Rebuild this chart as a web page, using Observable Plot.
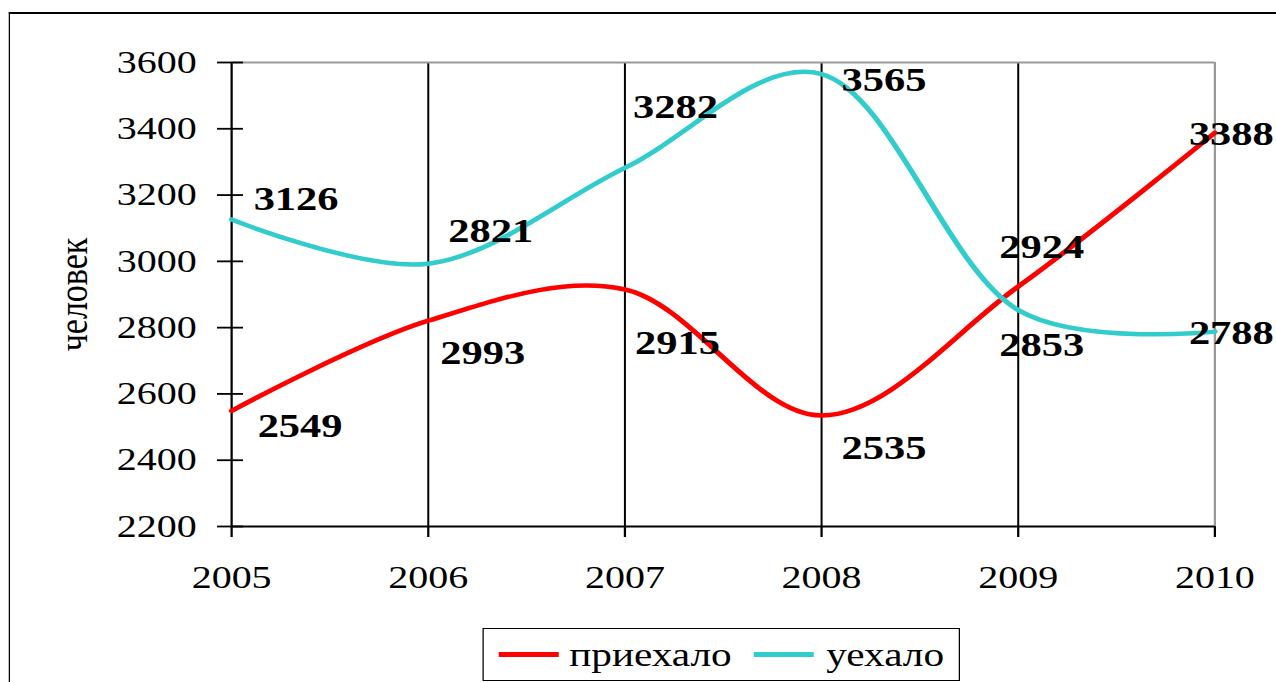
<!DOCTYPE html>
<html>
<head>
<meta charset="utf-8">
<script src="https://cdn.jsdelivr.net/npm/d3@7"></script>
<script src="https://cdn.jsdelivr.net/npm/@observablehq/plot@0.6"></script>
<style>
  html, body { margin: 0; padding: 0; background: #fff; overflow: hidden; }
  body { width: 1276px; height: 682px; position: relative; font-family: "Liberation Serif", "Times New Roman", serif; }
  #wrap { position: absolute; left: 0; top: 0; height: 682px; transform-origin: 0 0; }
  #frame { position: absolute; top: 12px; border-top: 2px solid #000; border-left: 1.7px solid #000; height: 700px; }
  #chart { position: absolute; left: 0; top: 0; }
  #legend { position: absolute; top: 628px; height: 51px; border: 1.5px solid #000; background: #fff; }
  .sw { position: absolute; height: 5px; }
  .lt { position: absolute; font-size: 33px; line-height: 33px; color: #000; white-space: nowrap; }
</style>
</head>
<body>
<div id="wrap">
  <div id="frame"></div>
  <div id="chart"></div>
  <div id="legend"></div>
</div>
<script>
// ---- data ----
const years = [2005, 2006, 2007, 2008, 2009, 2010];
const arrived = [2549, 2821, 2915, 2535, 2924, 3388];      // приехало
const departed = [3126, 2993, 3282, 3565, 2853, 2788];     // уехало
const arrivedLabels = ["2549", "2993", "2915", "2535", "2924", "3388"];
const departedLabels = ["3126", "2821", "3282", "3565", "2853", "2788"];
const yTicks = [2200, 2400, 2600, 2800, 3000, 3200, 3400, 3600];
const seriesNames = ["приехало", "уехало"];
const seriesColors = ["#ff0000", "#33cccc"];
const yLabel = "человек";

// ---- layout ----
const S = 1.25;                 // horizontal stretch of the original picture
const W = Math.round(1276 / S);
const font = "'Liberation Serif', 'Times New Roman', serif";
// label offsets in screen pixels [dx, dy] relative to each point
const arrivedOffsets = [[26, 15], [12, 32], [10, 54], [20, 33], [-19, -39], [-26, 1]];
const departedOffsets = [[22, -20], [20, -33], [8, -61], [20, 6], [-19, 35], [-26, 1]];

const rowsA = years.map((y, i) => ({year: y, value: arrived[i], label: arrivedLabels[i], series: seriesNames[0]}));
const rowsD = years.map((y, i) => ({year: y, value: departed[i], label: departedLabels[i], series: seriesNames[1]}));

const labelMarks = [];
[[rowsA, arrivedOffsets], [rowsD, departedOffsets]].forEach(([rows, offs]) => {
  rows.forEach((r, i) => {
    labelMarks.push(Plot.text([r], {
      x: "year", y: "value", text: "label",
      dx: offs[i][0] / S, dy: offs[i][1],
      textAnchor: "start", fontSize: 34, fontWeight: "bold", fill: "#000"
    }));
  });
});

const wrap = document.getElementById("wrap");
wrap.style.width = W + "px";
wrap.style.transform = `scaleX(${S})`;

const chart = Plot.plot({
  width: W,
  height: 682,
  marginLeft: 231 / S,
  marginRight: 62 / S,
  marginTop: 62,
  marginBottom: 156,
  style: {fontFamily: font, background: "transparent", overflow: "visible", color: "#000"},
  x: {domain: [2005, 2010], axis: null},
  y: {domain: [2200, 3600], axis: null},
  marks: [
    Plot.ruleX(years.slice(1, -1), {stroke: "#000", strokeWidth: 1.6}),
    Plot.ruleX([years[years.length - 1]], {stroke: "#999", strokeWidth: 1.8}),
    Plot.ruleY([yTicks[yTicks.length - 1]], {stroke: "#999", strokeWidth: 2}),
    Plot.ruleX([years[0]], {stroke: "#000", strokeWidth: 1.8}),
    Plot.ruleY([yTicks[0]], {stroke: "#000", strokeWidth: 2}),
    Plot.axisY({ticks: yTicks, tickSize: 26 / S, dx: 12 / S, text: null, strokeWidth: 1.8, label: null}),
    Plot.axisY({ticks: yTicks, tickSize: 0, tickPadding: 35 / S, fontSize: 32, tickFormat: d => String(d), label: null}),
    Plot.axisX({ticks: years, tickSize: 11, tickPadding: 28, fontSize: 32, tickFormat: d => String(d), strokeWidth: 1.8, label: null}),
    Plot.text([yLabel], {frameAnchor: "left", textAnchor: "middle", rotate: -90, dx: (73 - 231) / S, fontSize: 34, fill: "#000"}),
    Plot.line(rowsA, {x: "year", y: "value", stroke: seriesColors[0], strokeWidth: 4.5, curve: "catmull-rom", tension: 0.25}),
    Plot.line(rowsD, {x: "year", y: "value", stroke: seriesColors[1], strokeWidth: 4.5, curve: "catmull-rom", tension: 0.25}),
    ...labelMarks
  ]
});
document.getElementById("chart").appendChild(chart);

// frame
const frame = document.getElementById("frame");
frame.style.left = (9 / S) + "px";
frame.style.width = (1400 / S) + "px";

// legend
const legend = document.getElementById("legend");
const L0 = 483;
legend.style.left = (L0 / S) + "px";
legend.style.width = (475 / S) + "px";
const items = [
  {name: seriesNames[0], color: seriesColors[0], sw: [497, 557], tx: 568},
  {name: seriesNames[1], color: seriesColors[1], sw: [753, 813], tx: 825}
];
items.forEach(it => {
  const s = document.createElement("div");
  s.className = "sw";
  s.style.background = it.color;
  s.style.left = ((it.sw[0] - L0) / S) + "px";
  s.style.width = ((it.sw[1] - it.sw[0]) / S) + "px";
  s.style.top = (655 - 628 - 2.5 - 1.5) + "px";
  legend.appendChild(s);
  const t = document.createElement("div");
  t.className = "lt";
  t.textContent = it.name;
  t.style.left = ((it.tx - L0) / S) + "px";
  t.style.top = (639 - 628 - 1.5) + "px";
  legend.appendChild(t);
});
</script>
</body>
</html>
